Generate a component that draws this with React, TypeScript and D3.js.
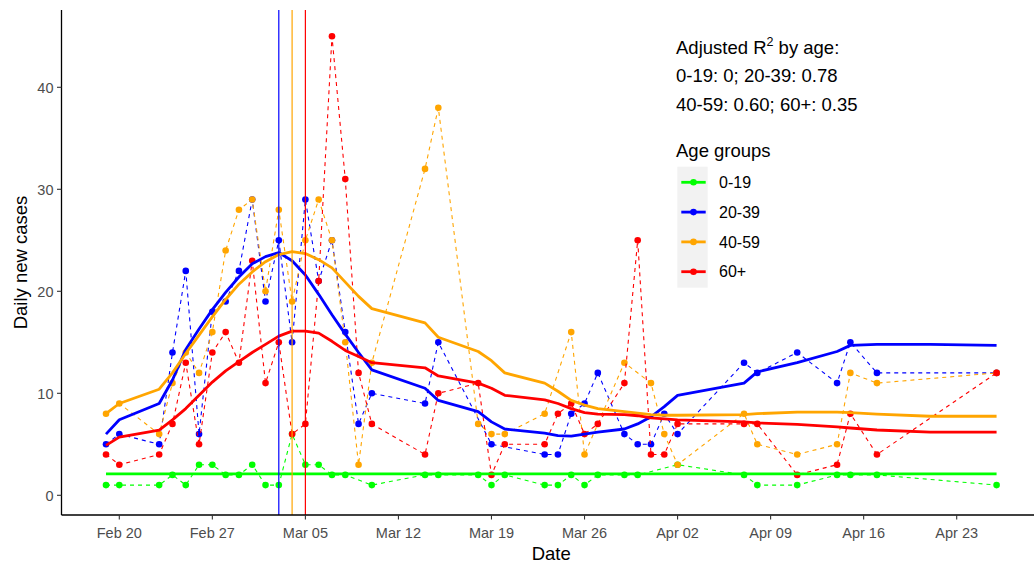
import React from 'react';
import * as d3 from 'd3';

// ---------- data ----------
const groups = ['0-19', '20-39', '40-59', '60+'];

const dates0_19 = ['2020-02-19','2020-02-20','2020-02-23','2020-02-24','2020-02-25','2020-02-26','2020-02-27','2020-02-28','2020-02-29','2020-03-01','2020-03-02','2020-03-03','2020-03-04','2020-03-05','2020-03-06','2020-03-07','2020-03-08','2020-03-10','2020-03-14','2020-03-15','2020-03-18','2020-03-19','2020-03-20','2020-03-23','2020-03-24','2020-03-25','2020-03-26','2020-03-27','2020-03-29','2020-03-30','2020-04-02','2020-04-07','2020-04-08','2020-04-11','2020-04-14','2020-04-15','2020-04-17','2020-04-26'];
const cases0_19 = [1,1,1,2,1,3,3,2,2,3,1,1,6,3,3,2,2,1,2,2,2,1,2,1,1,2,1,2,2,2,3,2,1,1,2,2,2,1];

const dates20_39 = ['2020-02-19','2020-02-20','2020-02-23','2020-02-24','2020-02-25','2020-02-26','2020-02-27','2020-02-28','2020-02-29','2020-03-01','2020-03-02','2020-03-03','2020-03-04','2020-03-05','2020-03-06','2020-03-07','2020-03-08','2020-03-09','2020-03-10','2020-03-14','2020-03-15','2020-03-19','2020-03-23','2020-03-24','2020-03-25','2020-03-26','2020-03-27','2020-03-29','2020-03-30','2020-03-31','2020-04-01','2020-04-02','2020-04-07','2020-04-08','2020-04-11','2020-04-14','2020-04-15','2020-04-17','2020-04-26'];
const cases20_39 = [5,6,5,14,22,6,18,19,22,29,19,25,15,29,21,25,16,7,10,9,15,5,4,4,8,9,12,6,5,5,8,6,13,12,14,11,15,12,12];

const dates40_59 = ['2020-02-19','2020-02-20','2020-02-23','2020-02-24','2020-02-25','2020-02-26','2020-02-27','2020-02-28','2020-02-29','2020-03-01','2020-03-02','2020-03-03','2020-03-04','2020-03-05','2020-03-06','2020-03-07','2020-03-08','2020-03-09','2020-03-10','2020-03-14','2020-03-15','2020-03-18','2020-03-19','2020-03-20','2020-03-23','2020-03-25','2020-03-26','2020-03-29','2020-03-31','2020-04-01','2020-04-02','2020-04-07','2020-04-08','2020-04-11','2020-04-14','2020-04-15','2020-04-17','2020-04-26'];
const cases40_59 = [8,9,6,11,14,12,16,24,28,29,20,28,19,25,29,25,15,3,13,32,38,7,6,6,8,16,4,13,11,6,3,8,5,4,5,12,11,12];

const dates60 = ['2020-02-19','2020-02-20','2020-02-23','2020-02-24','2020-02-25','2020-02-26','2020-02-27','2020-02-28','2020-02-29','2020-03-01','2020-03-02','2020-03-03','2020-03-04','2020-03-05','2020-03-06','2020-03-07','2020-03-08','2020-03-09','2020-03-10','2020-03-14','2020-03-15','2020-03-18','2020-03-19','2020-03-20','2020-03-23','2020-03-24','2020-03-25','2020-03-26','2020-03-27','2020-03-29','2020-03-30','2020-03-31','2020-04-01','2020-04-02','2020-04-07','2020-04-08','2020-04-11','2020-04-14','2020-04-15','2020-04-17','2020-04-26'];
const cases60 = [4,3,4,7,13,5,14,16,13,23,11,15,6,7,21,45,31,12,7,4,10,11,2,5,5,8,9,6,7,11,25,4,4,7,7,7,2,3,8,4,12];

// fitted (smoothed) values
const fitDates = ['2020-02-19','2020-02-20','2020-02-23','2020-02-24','2020-02-25','2020-02-26','2020-02-27','2020-02-28','2020-02-29','2020-03-01','2020-03-02','2020-03-03','2020-03-04','2020-03-05','2020-03-06','2020-03-07','2020-03-08','2020-03-09','2020-03-10','2020-03-14','2020-03-15','2020-03-18','2020-03-19','2020-03-20','2020-03-23','2020-03-24','2020-03-25','2020-03-26','2020-03-27','2020-03-29','2020-03-30','2020-03-31','2020-04-01','2020-04-02','2020-04-07','2020-04-08','2020-04-11','2020-04-14','2020-04-15','2020-04-17','2020-04-21','2020-04-26'];
const fit0_19 = [2.1,2.1,2.1,2.1,2.1,2.1,2.1,2.1,2.1,2.1,2.1,2.1,2.1,2.1,2.1,2.1,2.1,2.1,2.1,2.1,2.1,2.1,2.1,2.1,2.1,2.1,2.1,2.1,2.1,2.1,2.1,2.1,2.1,2.1,2.1,2.1,2.1,2.1,2.1,2.1,2.1,2.1];
const fit20_39 = [6.0,7.4,9.0,11.3,14.3,16.3,18.2,19.9,21.4,22.7,23.4,23.8,23.0,21.6,19.7,17.7,15.8,14.0,12.3,10.5,9.3,8.2,7.2,6.5,6.1,5.85,5.8,6.0,6.2,6.5,7.0,7.7,8.7,9.8,11.0,12.1,13.0,14.1,14.7,14.8,14.8,14.7];
const fit40_59 = [8.0,9.0,10.4,12.0,13.9,15.7,17.5,19.2,20.7,21.9,22.9,23.6,23.9,23.7,23.1,22.3,20.9,19.5,18.3,16.9,15.5,14.1,13.2,12.0,11.0,10.2,9.3,8.85,8.5,8.2,8.05,7.9,7.85,7.85,7.9,8.0,8.15,8.15,8.1,7.95,7.75,7.75];
const fit60 = [4.9,5.7,6.4,7.4,8.5,9.8,11.1,12.2,13.1,14.0,14.8,15.6,16.1,16.1,15.9,15.1,14.2,13.6,13.0,12.5,11.7,11.0,10.5,9.8,9.35,9.0,8.5,8.1,7.95,7.9,7.8,7.6,7.5,7.4,7.2,7.1,6.95,6.7,6.6,6.4,6.2,6.2];

// peak dates (vertical lines) for 20-39, 40-59, 60+
const peakGroups = ['20-39', '40-59', '60+'];
const peakDates = ['2020-03-03', '2020-03-04', '2020-03-05'];

const xTickDates = ['2020-02-20','2020-02-27','2020-03-05','2020-03-12','2020-03-19','2020-03-26','2020-04-02','2020-04-09','2020-04-16','2020-04-23'];
const yTicks = [0, 10, 20, 30, 40];

const r2Title = 'Adjusted R';
const r2Lines = ['0-19: 0; 20-39: 0.78', '40-59: 0.60; 60+: 0.35'];

// ---------- styles ----------
const COLORS: Record<string, string> = { '0-19': '#00ff00', '20-39': '#0000ff', '40-59': '#ffa500', '60+': '#ff0000' };
const FONT = '"Liberation Sans", Arial, Helvetica, sans-serif';

const parse = d3.utcParse('%Y-%m-%d');
const fmt = d3.utcFormat('%b %d');

export default function App() {
  const W = 1034, H = 566;
  const panelLeft = 61.5, panelRight = 1041, panelTop = 10, panelBottom = 515;

  const x = d3.scaleUtc()
    .domain([parse('2020-02-20') as Date, parse('2020-04-23') as Date])
    .range([119.3, 956.7]);
  const y = d3.scaleLinear().domain([0, 40]).range([495.3, 87.3]);

  const raw = [
    { g: '0-19', d: dates0_19, v: cases0_19, fit: fit0_19 },
    { g: '20-39', d: dates20_39, v: cases20_39, fit: fit20_39 },
    { g: '40-59', d: dates40_59, v: cases40_59, fit: fit40_59 },
    { g: '60+', d: dates60, v: cases60, fit: fit60 },
  ];
  const series = raw.map(s => ({
    g: s.g,
    pts: s.d.map((ds, i) => [parse(ds) as Date, s.v[i]] as [Date, number]),
    fit: fitDates.map((ds, i) => [parse(ds) as Date, s.fit[i]] as [Date, number]),
  }));

  const line = d3.line<[Date, number]>().x(d => x(d[0])).y(d => y(d[1]));

  return (
    <svg width={W} height={H} style={{ position: 'absolute', left: 0, top: 0, background: '#fff' }} fontFamily={FONT}>
      <rect x={0} y={0} width={W} height={H} fill="#fff" />
      <defs>
        <clipPath id="panel">
          <rect x={panelLeft} y={panelTop} width={panelRight - panelLeft} height={panelBottom - panelTop} />
        </clipPath>
      </defs>

      <g clipPath="url(#panel)">
        {/* dashed raw lines + points */}
        {series.map(s => (
          <g key={'raw' + s.g}>
            <path d={line(s.pts) || ''} fill="none" stroke={COLORS[s.g]} strokeWidth={1.1} strokeDasharray="4,4" />
            {s.pts.map((p, i) => (
              <circle key={i} cx={x(p[0])} cy={y(p[1])} r={3.3} fill={COLORS[s.g]} />
            ))}
          </g>
        ))}
        {/* fitted lines */}
        {series.map(s => (
          <path key={'fit' + s.g} d={line(s.fit) || ''} fill="none" stroke={COLORS[s.g]} strokeWidth={2.8} strokeLinejoin="round" />
        ))}
        {/* peak lines */}
        {peakDates.map((pd, i) => (
          <line key={'v' + i} x1={x(parse(pd) as Date)} x2={x(parse(pd) as Date)} y1={panelTop} y2={panelBottom}
            stroke={COLORS[peakGroups[i]]} strokeWidth={1.2} />
        ))}
      </g>

      {/* axes */}
      <line x1={panelLeft} x2={panelLeft} y1={panelTop} y2={panelBottom} stroke="#000" strokeWidth={1.3} />
      <line x1={panelLeft} x2={panelRight} y1={panelBottom} y2={panelBottom} stroke="#000" strokeWidth={1.3} />
      {yTicks.map(t => (
        <g key={'yt' + t}>
          <line x1={panelLeft - 4.5} x2={panelLeft} y1={y(t)} y2={y(t)} stroke="#333" strokeWidth={1.1} />
          <text x={panelLeft - 8} y={y(t)} dy="0.36em" textAnchor="end" fontSize={14.5} fill="#4d4d4d">{t}</text>
        </g>
      ))}
      {xTickDates.map(ds => {
        const d = parse(ds) as Date;
        return (
          <g key={'xt' + ds}>
            <line x1={x(d)} x2={x(d)} y1={panelBottom} y2={panelBottom + 4.5} stroke="#333" strokeWidth={1.1} />
            <text x={x(d)} y={537.5} textAnchor="middle" fontSize={14.5} fill="#4d4d4d">{fmt(d)}</text>
          </g>
        );
      })}
      <text x={(panelLeft + panelRight) / 2} y={560} textAnchor="middle" fontSize={18.5} fill="#000">Date</text>
      <text transform={`translate(27,${(panelTop + panelBottom) / 2}) rotate(-90)`} textAnchor="middle" fontSize={18.5} fill="#000">Daily new cases</text>

      {/* annotation */}
      <text x={676} y={54} fontSize={18.5} fill="#000">
        {r2Title}
        <tspan fontSize={12.5} dy={-8}>2</tspan>
        <tspan dy={8}> by age:</tspan>
      </text>
      {r2Lines.map((l, i) => (
        <text key={'r2' + i} x={676} y={82 + i * 28.5} fontSize={18.5} fill="#000">{l}</text>
      ))}

      {/* legend */}
      <text x={676} y={156.7} fontSize={18.5} fill="#000">Age groups</text>
      <rect x={677.3} y={166.7} width={30.4} height={121} fill="#f2f2f2" />
      {groups.map((g, i) => {
        const cy = 182.3 + i * 29.8;
        return (
          <g key={'lg' + g}>
            <line x1={681.3} x2={705.7} y1={cy} y2={cy} stroke={COLORS[g]} strokeWidth={2.8} />
            <circle cx={693.5} cy={cy} r={3.3} fill={COLORS[g]} />
            <text x={719} y={cy} dy="0.36em" fontSize={16} fill="#000">{g}</text>
          </g>
        );
      })}
    </svg>
  );
}
